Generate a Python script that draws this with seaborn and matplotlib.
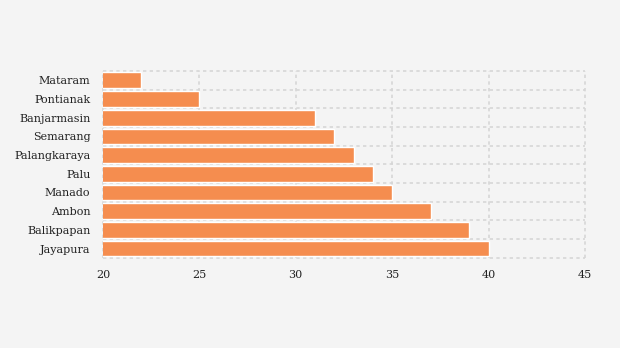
import matplotlib
matplotlib.use("Agg")
import matplotlib.pyplot as plt
import seaborn as sns
import pandas as pd
import numpy as np
from matplotlib.ticker import FixedLocator

cities = ["Mataram", "Pontianak", "Banjarmasin", "Semarang", "Palangkaraya",
          "Palu", "Manado", "Ambon", "Balikpapan", "Jayapura"]
values = [22, 25, 31, 32, 33, 34, 35, 37, 39, 40]
xticks = [20, 25, 30, 35, 40, 45]

df = pd.DataFrame({"city": cities, "value": values})

sns.set_style("white")
plt.rcParams["font.family"] = ["DejaVu Serif"]

fig = plt.figure(figsize=(6.2, 3.48), dpi=100, facecolor="#f4f4f4")
ax = fig.add_axes([0.166, 0.259, 0.7775, 0.537])
ax.set_facecolor("#f4f4f4")

sns.barplot(data=df, x="value", y="city", orient="h", color="#f58d4f",
            saturation=1, width=0.84, ax=ax, zorder=2)

ax.set_xlim(20, 45)
ax.set_ylim(len(cities) - 0.5, -0.5)
ax.set_xticks(xticks)
ax.set_xticklabels([str(t) for t in xticks])
ax.yaxis.set_minor_locator(FixedLocator(np.arange(-0.5, len(cities), 1.0)))
ax.grid(False)
ax.grid(axis="x", which="major", color="#d6d6d6", linestyle=(0, (2, 2)), linewidth=1.2, zorder=0)
ax.grid(axis="y", which="minor", color="#d6d6d6", linestyle=(0, (2, 2)), linewidth=1.2, zorder=0)
for t in ax.xaxis.get_major_ticks() + ax.yaxis.get_minor_ticks():
    t.gridline.set_clip_on(False)
ax.set_axisbelow(True)
for s in ax.spines.values():
    s.set_visible(False)
ax.set_xlabel("")
ax.set_ylabel("")
ax.tick_params(axis="y", which="major", length=4, color="#c8c8c8", labelsize=8, labelcolor="#222222", pad=5)
ax.tick_params(axis="y", which="minor", length=0)
ax.tick_params(axis="x", length=0, labelsize=8, labelcolor="#222222", pad=9)

fig.savefig("out.png", dpi=100, facecolor=fig.get_facecolor())
